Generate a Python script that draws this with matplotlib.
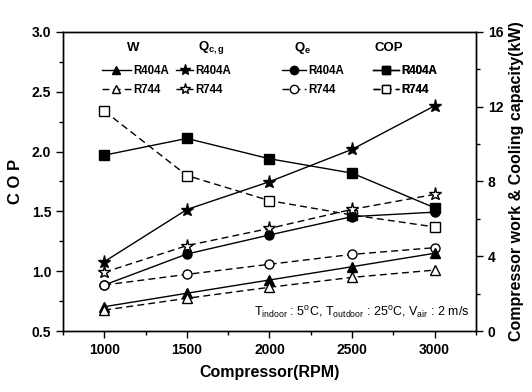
import matplotlib
matplotlib.use('Agg')
import matplotlib.pyplot as plt
from matplotlib.lines import Line2D
from matplotlib.ticker import MultipleLocator

plt.rcParams['font.family'] = ['Liberation Sans', 'DejaVu Sans']
plt.rcParams['mathtext.fontset'] = 'custom'
plt.rcParams['mathtext.rm'] = 'Liberation Sans'
plt.rcParams['mathtext.it'] = 'Liberation Sans:italic'
plt.rcParams['mathtext.bf'] = 'Liberation Sans:bold'

rpm = [1000, 1500, 2000, 2500, 3000]

# COP (left axis)
cop_r404a = [1.97, 2.11, 1.94, 1.82, 1.53]
cop_r744 = [2.34, 1.80, 1.59, 1.47, 1.37]

# capacities / work in kW (right axis)
qcg_r404a = [3.71, 6.50, 7.99, 9.72, 12.05]
qcg_r744 = [3.14, 4.57, 5.49, 6.51, 7.31]
qe_r404a = [2.46, 4.12, 5.14, 6.12, 6.36]
qe_r744 = [2.46, 3.03, 3.57, 4.10, 4.46]
w_r404a = [1.30, 2.02, 2.73, 3.44, 4.16]
w_r744 = [1.12, 1.75, 2.34, 2.87, 3.26]

fig = plt.figure(figsize=(5.32, 3.92), dpi=100)
ax = fig.add_axes([0.1184, 0.1556, 0.7763, 0.7628])
ax2 = ax.twinx()

ms = 6.5
lw = 1.0
solid = dict(color='black', lw=lw, ls='-', markersize=ms, markerfacecolor='black', markeredgecolor='black')
dashed = dict(color='black', lw=lw, ls=(0, (5, 3)), markersize=ms, markerfacecolor='white', markeredgecolor='black')

ax.plot(rpm, cop_r404a, marker='s', **solid)
ax.plot(rpm, cop_r744, marker='s', **dashed)

ax2.plot(rpm, qcg_r404a, marker='*', **dict(solid, markersize=ms + 3))
ax2.plot(rpm, qcg_r744, marker='*', **dict(dashed, markersize=ms + 3))
ax2.plot(rpm, qe_r404a, marker='o', **solid)
ax2.plot(rpm, qe_r744, marker='o', **dashed)
ax2.plot(rpm, w_r404a, marker='^', **solid)
ax2.plot(rpm, w_r744, marker='^', **dashed)

ax.set_xlim(750, 3250)
ax.set_ylim(0.5, 3.0)
ax2.set_ylim(0, 16)
ax.set_xticks(rpm)
ax.xaxis.set_minor_locator(MultipleLocator(250))
ax.yaxis.set_major_locator(MultipleLocator(0.5))
ax.yaxis.set_minor_locator(MultipleLocator(0.25))
ax2.yaxis.set_major_locator(MultipleLocator(4))
ax2.yaxis.set_minor_locator(MultipleLocator(2))

for a in (ax, ax2):
    a.tick_params(which='major', direction='out', length=5, width=1, labelsize=10)
    a.tick_params(which='minor', direction='out', length=3, width=1)
    for sp in a.spines.values():
        sp.set_linewidth(1.0)
for lab in ax.get_xticklabels() + ax.get_yticklabels() + ax2.get_yticklabels():
    lab.set_fontweight('bold')

ax.set_xlabel('Compressor(RPM)', fontsize=11.5, fontweight='bold', labelpad=6)
ax.set_ylabel('C O P', fontsize=12, fontweight='bold', labelpad=6)
ax2.set_ylabel('Compressor work & Cooling capacity(kW)', fontsize=11.5, fontweight='bold', labelpad=4)

ax2.text(0.985, 0.035,
         r'T$_{\rm indoor}$ : 5$^{\rm o}$C, T$_{\rm outdoor}$ : 25$^{\rm o}$C, V$_{\rm air}$ : 2 m/s',
         transform=ax2.transAxes, ha='right', va='bottom', fontsize=9)

# grouped legends: title, marker, legend marker size, title x, legend x, handle length
groups = [
    ('W', '^', 6, 0.17, 0.094, 2.5),
    (r'Q$_{\mathbf{c,g}}$', '*', 8, 0.36, 0.274, 1.5),
    (r'Q$_{\mathbf{e}}$', 'o', 6, 0.58, 0.530, 2.1),
    ('COP', 's', 6, 0.79, 0.751, 2.2),
]
for title, mk, size, tx, lx, hl in groups:
    ax2.text(tx, 0.948, title, transform=ax2.transAxes, ha='center', va='center',
             fontsize=9.5, fontweight='bold')
    handles = [
        Line2D([], [], marker=mk, **dict(solid, markersize=size)),
        Line2D([], [], marker=mk, **dict(dashed, markersize=size)),
    ]
    leg = ax2.legend(handles, ['R404A', 'R744'], loc='upper left',
                     bbox_to_anchor=(lx, 0.888), frameon=False, fontsize=8.3,
                     handlelength=hl, handletextpad=0.2, labelspacing=0.6,
                     borderpad=0, borderaxespad=0)
    for t in leg.get_texts():
        t.set_fontweight('bold')
    ax2.add_artist(leg)

fig.savefig('out.png', dpi=100)
